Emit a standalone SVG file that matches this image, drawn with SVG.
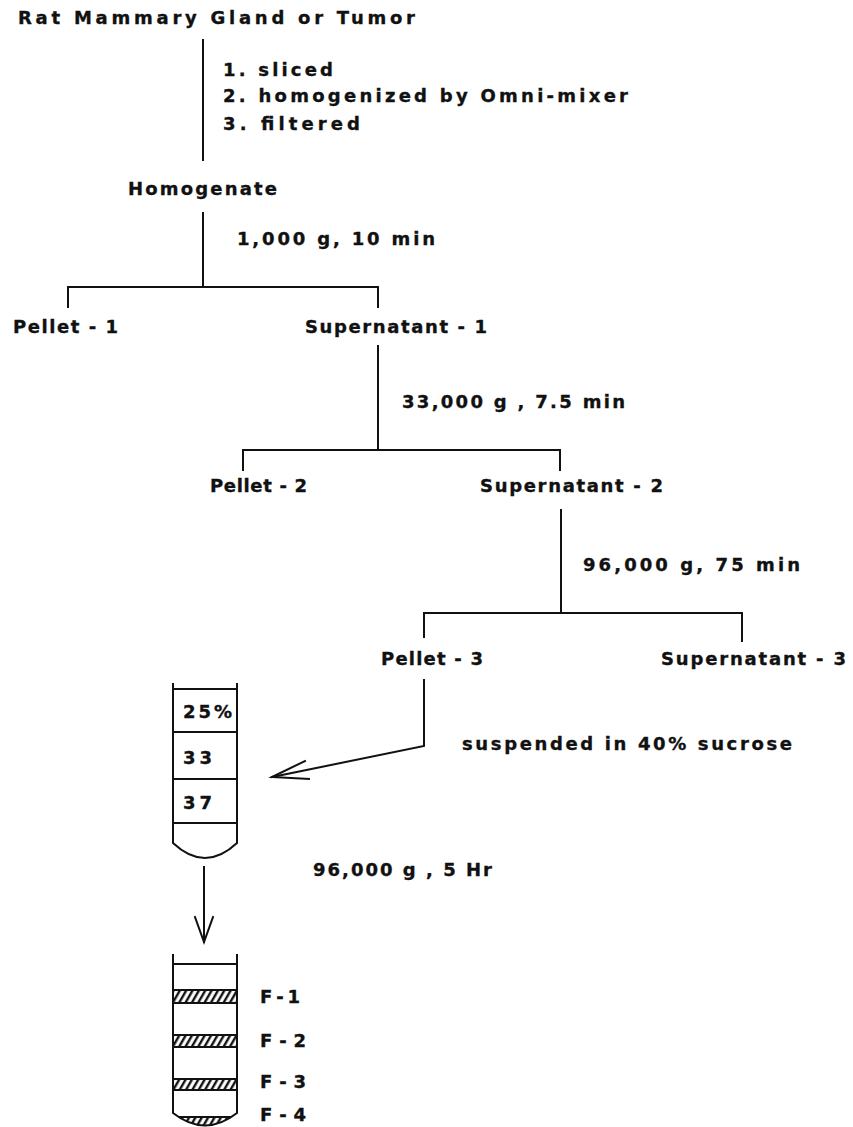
<svg xmlns="http://www.w3.org/2000/svg" width="853" height="1127" viewBox="0 0 853 1127">
<style>
text{font-family:"DejaVu Sans","Liberation Sans",Arial,sans-serif;font-weight:bold;font-size:18px;fill:#111;stroke:#111;stroke-width:0.35}
.t{font-size:18px}
.ln{stroke:#111;stroke-width:2;fill:none;stroke-linecap:square}
.tube{stroke:#111;stroke-width:2;fill:none}
.band{fill:url(#hatch);stroke:#111;stroke-width:2}
</style>
<defs>
<pattern id="hatch" width="5.5" height="10" patternUnits="userSpaceOnUse" patternTransform="rotate(30)">
<rect width="5.5" height="10" fill="#fff"/>
<line x1="2" y1="-1" x2="2" y2="11" stroke="#111" stroke-width="2.4"/>
</pattern>
<clipPath id="bot2"><path d="M173,1100 L173,1113 Q205,1138 237,1113 L237,1100 Z"/></clipPath>
</defs>
<rect width="853" height="1127" fill="#fff"/>

<g id="connectors">
<line class="ln" x1="203" y1="40" x2="203" y2="160"/>
<line class="ln" x1="203" y1="213" x2="203" y2="287"/>
<polyline class="ln" points="68,307 68,287 378,287 378,307"/>
<line class="ln" x1="378" y1="346" x2="378" y2="449"/>
<polyline class="ln" points="243,470 243,450 560,450 560,470"/>
<line class="ln" x1="561" y1="510" x2="561" y2="612"/>
<polyline class="ln" points="424,637 424,613 742,613 742,641"/>
<polyline class="ln" points="424,680 424,746 272,777"/>
<polyline class="ln" points="305,761 272,777 309,779"/>
<line class="ln" x1="204" y1="867" x2="204" y2="942"/>
<polyline class="ln" points="195,917 204,942 213,917"/>
</g>

<g id="n-source"><text class="t" x="18" y="24" textLength="397" lengthAdjust="spacing">Rat Mammary Gland or Tumor</text></g>
<g id="n-steps">
<text x="223" y="76" textLength="110" lengthAdjust="spacing">1. sliced</text>
<text x="223" y="102" textLength="405" lengthAdjust="spacing">2. homogenized by Omni-mixer</text>
<text x="223" y="130" textLength="137" lengthAdjust="spacing">3. filtered</text>
</g>
<g id="n-homogenate"><text x="128" y="195" textLength="149" lengthAdjust="spacing">Homogenate</text></g>
<g id="l-1000"><text x="237" y="245" textLength="198" lengthAdjust="spacing">1,000 g,  10 min</text></g>
<g id="n-pellet1"><text x="13" y="333" textLength="105" lengthAdjust="spacing">Pellet - 1</text></g>
<g id="n-super1"><text x="305" y="333" textLength="182" lengthAdjust="spacing">Supernatant - 1</text></g>
<g id="l-33000"><text x="402" y="408" textLength="223" lengthAdjust="spacing">33,000 g , 7.5 min</text></g>
<g id="n-pellet2"><text x="210" y="492" textLength="97" lengthAdjust="spacing">Pellet - 2</text></g>
<g id="n-super2"><text x="480" y="492" textLength="183" lengthAdjust="spacing">Supernatant - 2</text></g>
<g id="l-96000a"><text x="583" y="571" textLength="217" lengthAdjust="spacing">96,000 g,  75 min</text></g>
<g id="n-pellet3"><text x="381" y="665" textLength="102" lengthAdjust="spacing">Pellet - 3</text></g>
<g id="n-super3"><text x="661" y="665" textLength="185" lengthAdjust="spacing">Supernatant - 3</text></g>
<g id="l-suspended"><text x="462" y="750" textLength="330" lengthAdjust="spacing">suspended in 40% sucrose</text></g>
<g id="l-96000b"><text x="313" y="876" textLength="179" lengthAdjust="spacing">96,000 g , 5 Hr</text></g>

<g id="n-tube1">
<path class="tube" d="M173,683 L173,843 Q205,873 237,843 L237,683"/>
<line class="tube" x1="173" y1="689" x2="237" y2="689"/>
<line class="tube" x1="173" y1="732" x2="237" y2="732"/>
<line class="tube" x1="173" y1="779" x2="237" y2="779"/>
<line class="tube" x1="173" y1="823" x2="237" y2="823"/>
<text x="183" y="718" textLength="49" lengthAdjust="spacing">25%</text>
<text x="183" y="764" textLength="29" lengthAdjust="spacing">33</text>
<text x="183" y="809" textLength="29" lengthAdjust="spacing">37</text>
</g>

<g id="n-tube2">
<rect class="band" x="173" y="990" width="64" height="13"/>
<rect class="band" x="173" y="1035" width="64" height="12"/>
<rect class="band" x="173" y="1079" width="64" height="11"/>
<rect x="170" y="1117" width="70" height="15" fill="url(#hatch)" clip-path="url(#bot2)"/>
<line class="tube" x1="179" y1="1117" x2="231" y2="1117"/>
<path class="tube" d="M173,954 L173,1113 Q205,1138 237,1113 L237,954"/>
<line class="tube" x1="173" y1="964" x2="237" y2="964"/>
<text x="260" y="1003" textLength="40" lengthAdjust="spacing">F - 1</text>
<text x="260" y="1047" textLength="46" lengthAdjust="spacing">F - 2</text>
<text x="260" y="1088" textLength="46" lengthAdjust="spacing">F - 3</text>
<text x="260" y="1121" textLength="46" lengthAdjust="spacing">F - 4</text>
</g>
</svg>
